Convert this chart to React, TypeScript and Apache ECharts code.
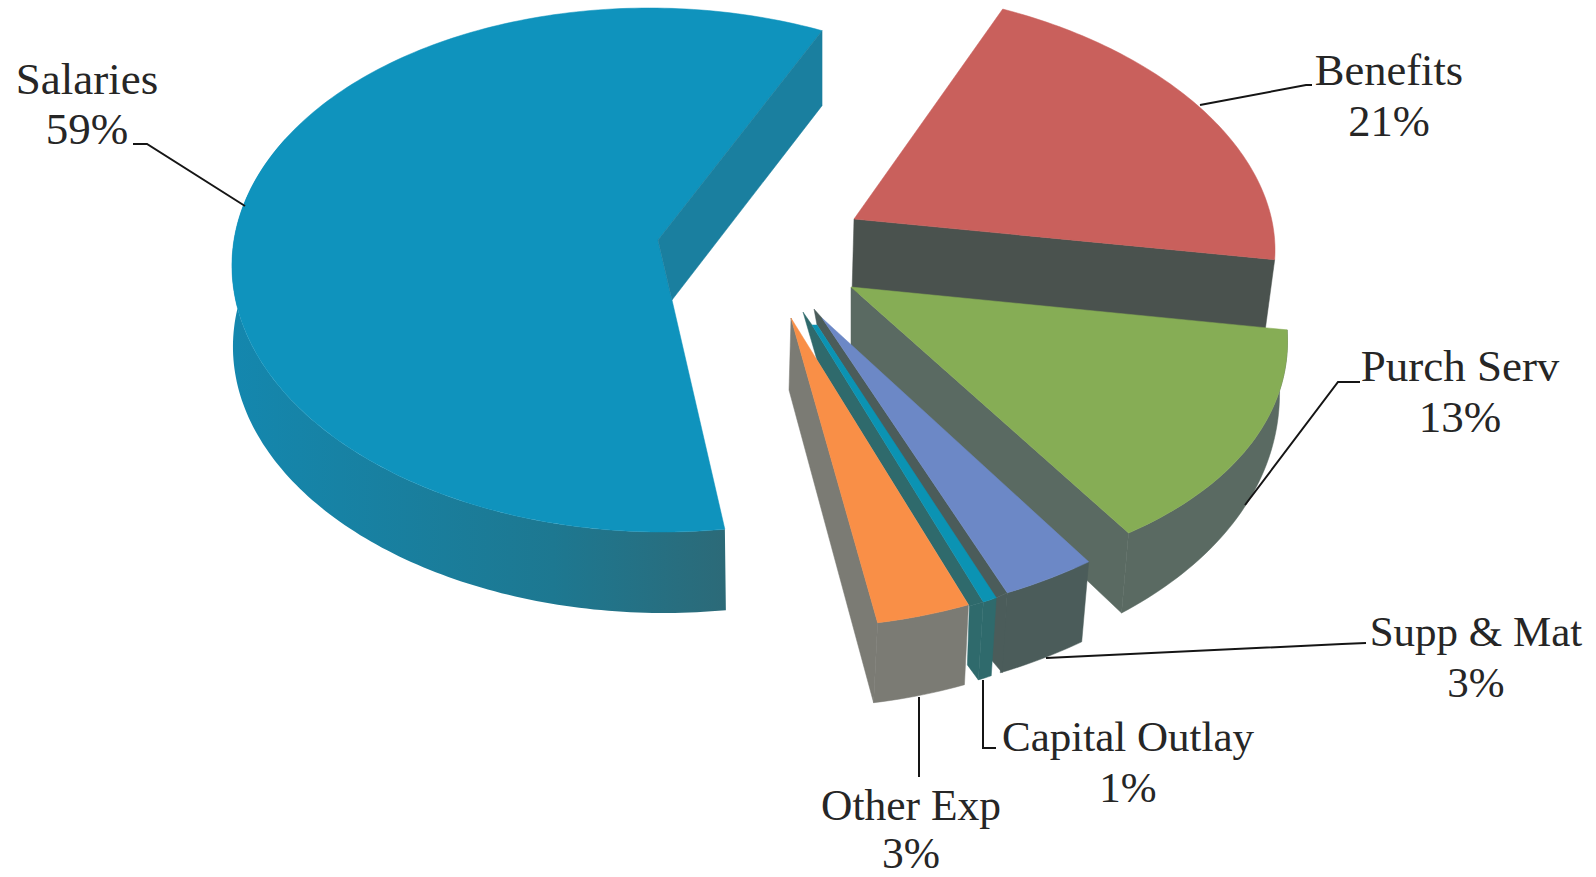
import React, { useEffect, useRef } from "react";
import * as echarts from "echarts";

const categories = ["Benefits", "Purch Serv", "Supp & Mat", "Capital Outlay", "Other Exp", "Salaries"];
const shares = [21, 13, 3, 1, 3, 59];

const START_DEG = 24;
const FONT = '"Liberation Serif", serif';

type Slice = {
  tip: number[]; tipB?: number[]; cx: number; cy: number; rx: number; ry: number; sh: number;
  top: any; wall: any; off?: number[]; offStart?: number[]; wallUntil?: number;
  endOffs?: number[][]; tipOff?: number[]; notch?: number[];
  spike?: number[][]; strip?: number[]; block?: number[][];
};

const layout: Slice[] = [
  { tip: [854, 219], cx: 892, cy: 221, rx: 380, ry: 232, sh: 48, top: "#c9605c", wall: "#4a524e",
    endOffs: [[-10, 74]], tipOff: [-2, 74] },
  { tip: [851, 287], cx: 737, cy: 279, rx: 539, ry: 305, sh: 112, top: "#86ad55", wall: "#5a6a62",
    off: [-7, 80], offStart: [-8, 50], endOffs: [[-7, 80]], tipOff: [0, 70] },
  { tip: [822, 318], cx: 817, cy: 272, rx: 491, ry: 348, sh: 0, top: "#6c88c6", wall: "#4b5c5a",
    off: [-7, 80], spike: [[814, 309], [817, 325]], strip: [-13, 6],
    block: [[-13, 6], [-16, 67], [-5, 80], [0, 0]] },
  { tip: [812, 325], tipB: [817, 325], cx: 911, cy: 430, rx: 220, ry: 182, sh: 0, top: "#0b93b3", wall: "#2f6a6c",
    off: [-5, 78], spike: [[803, 312], [817, 360]], strip: [-14, 4],
    block: [[-14, 4], [-16, 63], [-5, 78], [0, 0]] },
  { tip: [791, 318], cx: 805, cy: 227, rx: 497, ry: 400, sh: 0, top: "#f98f47", wall: "#7b7b74",
    off: [-4, 80], endOffs: [[-4, 80]], tipOff: [-2, 72] },
  { tip: [672, 300], cx: 656, cy: 270, rx: 424, ry: 262, sh: 7, top: "#0f93bd",
    wall: "#1a7f9f", off: [1, 81], wallUntil: 300, endOffs: [[0, 75]], notch: [-14, -60] },
];

const labelLayout = [
  { x: 1389, y1: 70, y2: 121, size: 44.5, leader: [[1200, 105], [1306, 85], [1312, 85]] },
  { x: 1460, y1: 366, y2: 417, size: 45, leader: [[1360, 382], [1338, 382], [1245, 505]] },
  { x: 1476, y1: 631, y2: 682, size: 43, leader: [[1366, 643], [1342, 644], [1046, 658]] },
  { x: 1128, y1: 736, y2: 787, size: 43, leader: [[983, 680], [983, 748], [996, 748]] },
  { x: 911, y1: 805, y2: 853, size: 43.5, leader: [[919, 697], [919, 777]] },
  { x: 87, y1: 79, y2: 129, size: 45, leader: [[133, 144], [147, 144], [245, 206]] },
];

const total = shares.reduce((a, b) => a + b, 0);
const startAngles: number[] = [];
shares.reduce((acc, v, i) => {
  startAngles[i] = acc;
  return acc + (v / total) * 360;
}, START_DEG);

function arcPoint(s: Slice, deg: number) {
  const t = (deg * Math.PI) / 180;
  return [s.cx + s.rx * Math.sin(t) - s.sh * Math.cos(t), s.cy - s.ry * Math.cos(t)];
}
function arc(s: Slice, a: number, b: number) {
  const n = Math.max(2, Math.ceil(Math.abs(b - a)));
  const pts: number[][] = [];
  for (let i = 0; i <= n; i++) pts.push(arcPoint(s, a + ((b - a) * i) / n));
  return pts;
}
const add = (p: number[], o: number[]) => [p[0] + o[0], p[1] + o[1]];
const poly = (points: number[][], fill: any) => ({
  type: "polygon",
  shape: { points },
  style: { fill, stroke: typeof fill === "string" ? fill : undefined, lineWidth: 0.5 },
});

function renderSlice(params: any, api: any) {
  const i = params.dataIndex;
  const s = layout[i];
  const a0 = startAngles[i];
  const a1 = a0 + (api.value(0) / total) * 360;
  const children: any[] = [];
  const end = arcPoint(s, a1);

  if (s.off) {
    const upper = arc(s, a0, s.wallUntil ? Math.min(a1, s.wallUntil) : a1);
    const n = upper.length - 1;
    const from = s.offStart || s.off;
    const to = s.off;
    const lower = upper
      .map((p, k) => add(p, [from[0] + ((to[0] - from[0]) * k) / n, from[1] + ((to[1] - from[1]) * k) / n]))
      .reverse();
    const isSalaries = i === layout.length - 1;
    const fill = isSalaries
      ? new echarts.graphic.LinearGradient(1, 0, 0, 0, [
          { offset: 0, color: "#2c6a78" },
          { offset: 0.35, color: "#1d7891" },
          { offset: 1, color: "#1487ae" },
        ])
      : s.wall;
    children.push(poly([...upper, ...lower], fill));
  }

  if (s.notch) {
    const inner = add(s.tip, s.notch);
    children.push(poly([s.tip, ...arc(s, a0, a1), inner], s.top));
    children.push(poly([inner, end, ...(s.endOffs as number[][]).map((o) => add(end, o)), s.tip], s.wall));
    return { type: "group", children };
  }

  if (s.endOffs) {
    const pts = [s.tip, end, ...s.endOffs.map((o) => add(end, o))];
    if (s.tipOff) pts.push(add(s.tip, s.tipOff));
    children.push(poly(pts, s.wall));
  }
  if (s.spike && s.strip) {
    children.push(poly([s.spike[0], s.tip, end, add(end, s.strip), s.spike[1]], s.wall));
  }
  if (s.block) children.push(poly(s.block.map((o) => add(end, o)), s.wall));
  const apex = s.tipB ? [s.tipB, ...arc(s, a0, a1), s.tip] : [s.tip, ...arc(s, a0, a1)];
  children.push(poly(apex, s.top));
  return { type: "group", children };
}

const leaderGraphics = labelLayout.map((l) => ({
  type: "polyline",
  z: 10,
  shape: { points: l.leader },
  style: { stroke: "#151515", lineWidth: 2, fill: "none" },
}));

const labelGraphics = labelLayout.flatMap((l, i) => [
  {
    type: "text", x: l.x, y: l.y1, z: 11,
    style: { text: categories[i], fill: "#262626", font: `${l.size}px ${FONT}`, textAlign: "center", textVerticalAlign: "middle" },
  },
  {
    type: "text", x: l.x, y: l.y2, z: 11,
    style: { text: `${shares[i]}%`, fill: "#262626", font: `${l.size}px ${FONT}`, textAlign: "center", textVerticalAlign: "middle" },
  },
]);

export default function App() {
  const ref = useRef<HTMLDivElement>(null);
  useEffect(() => {
    const chart = echarts.init(ref.current as HTMLDivElement, undefined, { renderer: "svg" });
    chart.setOption({
      animation: false,
      backgroundColor: "#ffffff",
      series: [
        {
          type: "custom",
          coordinateSystem: "none",
          silent: true,
          renderItem: renderSlice,
          data: shares.map((v) => [v]),
        },
      ],
      graphic: [...leaderGraphics, ...labelGraphics],
    });
    return () => chart.dispose();
  }, []);
  return <div ref={ref} style={{ position: "fixed", left: 0, top: 0, width: 1596, height: 877 }} />;
}
